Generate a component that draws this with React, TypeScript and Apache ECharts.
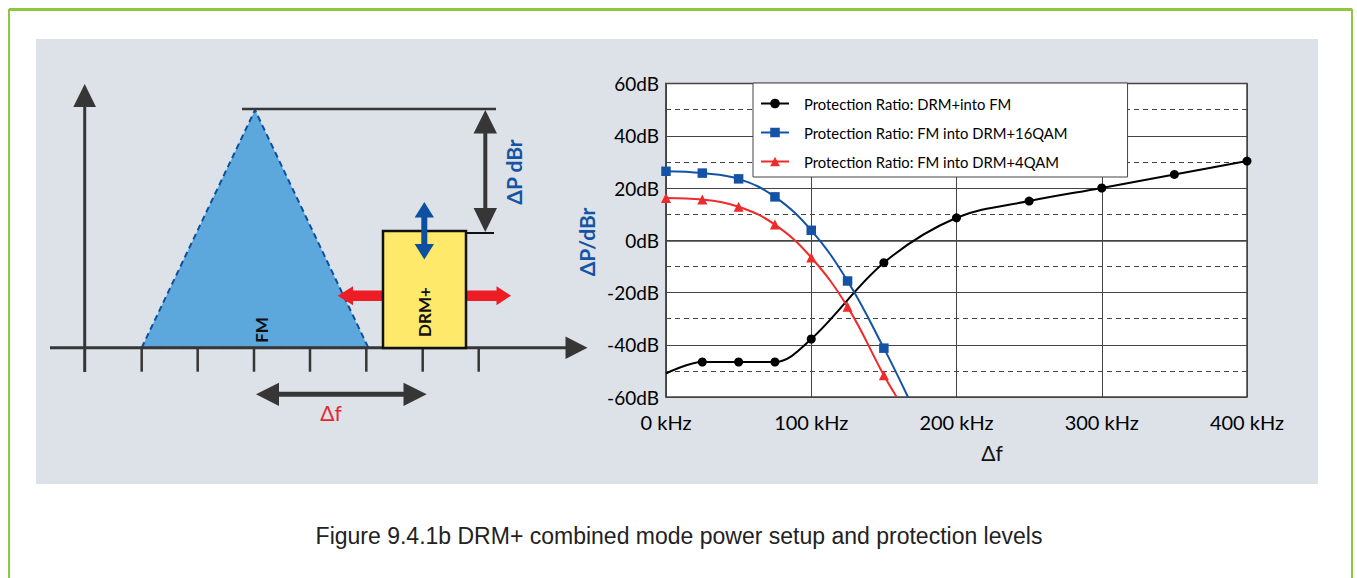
import React, { useEffect, useRef } from "react";
import * as echarts from "echarts";

// ---- data ----
const xTickValues = [0, 100, 200, 300, 400]; // kHz
const yTickValues = [-60, -40, -20, 0, 20, 40, 60]; // dB
const dashedGridValues = [50, 30, 10, -10, -30, -50];

const seriesNames = [
  "Protection Ratio: DRM+into FM",
  "Protection Ratio: FM into DRM+16QAM",
  "Protection Ratio: FM into DRM+4QAM",
];

const drmIntoFmFreq = [0, 25, 50, 75, 100, 150, 200, 250, 300, 350, 400];
const drmIntoFmValues = [-51, -46.6, -46.6, -46.6, -37.8, -8.6, 8.6, 15, 20, 25.2, 30.3];

const fmIntoDrmFreq = [0, 25, 50, 75, 100, 125, 150];
const fmInto16QamValues = [26.4, 25.7, 23.5, 16.6, 3.8, -15.6, -41.3];
const fmInto4QamValues = [16.2, 15.6, 12.8, 6.0, -6.6, -25.5, -51.7];
// where the curves leave the plot at the bottom
const fmInto16QamEnd = [166.6, -60];
const fmInto4QamEnd = [158.8, -60];

const captionText = "Figure 9.4.1b DRM+ combined mode power setup and protection levels";

const FONT = "Lato, 'Open Sans', sans-serif";
const DARK = "#363636";
const BLUE_TXT = "#1553a5";

function poly(points: number[][], fill: string, z = 5) {
  return { type: "polygon", z, shape: { points }, style: { fill } };
}
function ln(x1: number, y1: number, x2: number, y2: number, stroke: string, lineWidth: number, z = 5) {
  return { type: "line", z, shape: { x1, y1, x2, y2 }, style: { stroke, lineWidth } };
}

export default function App() {
  const ref = useRef<HTMLDivElement>(null);

  useEffect(() => {
    document.body.style.margin = "0";
    if (!ref.current) return;
    const chart = echarts.init(ref.current, undefined, { renderer: "svg" });

    const blackData: any[] = drmIntoFmFreq.map((f, i) =>
      i === 0 ? { value: [f, drmIntoFmValues[i]], symbol: "none" } : [f, drmIntoFmValues[i]]
    );
    const blueData: any[] = fmIntoDrmFreq.map((f, i) => [f, fmInto16QamValues[i]]);
    blueData.push({ value: fmInto16QamEnd, symbol: "none" });
    const redData: any[] = fmIntoDrmFreq.map((f, i) => [f, fmInto4QamValues[i]]);
    redData.push({ value: fmInto4QamEnd, symbol: "none" });

    const tickXs = [141.7, 197.7, 254, 310, 366.3, 422.7, 478.7];

    const graphics: any[] = [
      // frame and panel
      { type: "rect", z: -100, shape: { x: 9, y: 10, width: 1343, height: 620 }, style: { fill: "#fff", stroke: "#8dc63f", lineWidth: 2 } },
      ln(9, 9.5, 1352, 9.5, "#8dc63f", 3, -99),
      { type: "rect", z: -98, shape: { x: 36, y: 39, width: 1282, height: 445 }, style: { fill: "#dce2e8" } },
      // left diagram: FM triangle
      {
        type: "polygon", z: 2,
        shape: { points: [[141.7, 347.7], [255, 110], [368.3, 347.7]] },
        style: { fill: "#5ca8dc", stroke: "#0e4f9d", lineWidth: 2, lineDash: [6, 4] },
      },
      // axes
      ln(84.7, 100, 84.7, 372, DARK, 3),
      poly([[84.7, 84], [73.3, 107], [96, 107]], DARK),
      ln(50, 347.7, 570, 347.7, DARK, 3),
      poly([[587.5, 347.7], [565.5, 336.5], [565.5, 359]], DARK),
      ...tickXs.map((x) => ln(x, 347.7, x, 371.7, DARK, 2.5)),
      // level lines
      ln(242, 109, 496, 109, DARK, 2.5),
      ln(466, 233, 494, 233, "#111", 2),
      // delta P double arrow
      ln(485.3, 125, 485.3, 216, DARK, 4),
      poly([[485.3, 110], [473.6, 133.5], [497, 133.5]], DARK),
      poly([[485.3, 232], [473.6, 208], [497, 208]], DARK),
      // DRM+ block
      { type: "rect", z: 6, shape: { x: 383, y: 231, width: 83, height: 117 }, style: { fill: "#ffe96b", stroke: "#111", lineWidth: 2.5 } },
      ln(424.3, 212, 424.3, 250, "#0d4fa0", 6, 7),
      poly([[424.3, 202], [414.6, 217.5], [434, 217.5]], "#0d4fa0", 7),
      poly([[424.3, 259.5], [414.6, 244], [434, 244]], "#0d4fa0", 7),
      // red arrows
      { type: "rect", z: 5, shape: { x: 350, y: 290.5, width: 33, height: 10.5 }, style: { fill: "#ee1c24" } },
      poly([[337.7, 295.7], [353, 286.2], [353, 305.2]], "#ee1c24"),
      { type: "rect", z: 5, shape: { x: 466, y: 290.5, width: 32, height: 10.5 }, style: { fill: "#ee1c24" } },
      poly([[511, 295.7], [496.5, 286.2], [496.5, 305.2]], "#ee1c24"),
      // delta f double arrow
      ln(272, 394.3, 412, 394.3, DARK, 5),
      poly([[256, 394.3], [279, 382.7], [279, 405.9]], DARK),
      poly([[426.7, 394.3], [403.5, 382.7], [403.5, 405.9]], DARK),
      // texts
      {
        type: "text", z: 8, x: 261.7, y: 330, rotation: Math.PI / 2,
        style: { text: "FM", fontFamily: FONT, fontSize: 17, fontWeight: "bold", fill: "#111", align: "center", verticalAlign: "middle" },
      },
      {
        type: "text", z: 8, x: 424, y: 312, rotation: Math.PI / 2,
        style: { text: "DRM+", fontFamily: FONT, fontSize: 17, fontWeight: "bold", fill: "#111", align: "center", verticalAlign: "middle" },
      },
      {
        type: "text", z: 8, x: 513, y: 172, rotation: Math.PI / 2,
        style: { text: "ΔP dBr", fontFamily: FONT, fontSize: 21, fontWeight: "bold", fill: BLUE_TXT, align: "center", verticalAlign: "middle" },
      },
      {
        type: "text", z: 8, x: 331, y: 412.7,
        style: { text: "Δf", fontFamily: FONT, fontSize: 21, fill: "#e8262d", align: "center", verticalAlign: "middle" },
      },
      // right chart extra texts
      {
        type: "text", z: 8, x: 586.7, y: 242, rotation: Math.PI / 2,
        style: { text: "ΔP/dBr", fontFamily: FONT, fontSize: 21, fontWeight: "bold", fill: BLUE_TXT, align: "center", verticalAlign: "middle" },
      },
      {
        type: "text", z: 8, x: 992, y: 452,
        style: { text: "Δf", fontFamily: FONT, fontSize: 21, fill: "#111", align: "center", verticalAlign: "middle" },
      },
      // caption
      {
        type: "text", z: 8, x: 679, y: 536,
        style: {
          text: captionText,
          fontFamily: "'Liberation Sans Narrow', 'Arial Narrow', 'Liberation Sans', sans-serif",
          fontSize: 23, fill: "#222", align: "center", verticalAlign: "middle",
        },
      },
    ];

    const option: any = {
      animation: false,
      backgroundColor: "transparent",
      grid: {
        show: true, left: 666, right: 110, top: 83.5, bottom: 181,
        backgroundColor: "#fff", borderColor: "#444", borderWidth: 1.5,
      },
      legend: {
        data: seriesNames,
        orient: "vertical",
        left: 753, top: 83, z: 20,
        padding: [13, 60, 8, 7],
        itemGap: 14, itemWidth: 28, itemHeight: 12,
        backgroundColor: "#fff", borderColor: "#444", borderWidth: 1,
        textStyle: { fontFamily: FONT, fontSize: 14.8, color: "#000", padding: [0, 0, 0, 10] },
      },
      xAxis: {
        type: "value", min: 0, max: 400, interval: 100,
        axisLine: { show: true, lineStyle: { color: "#444", width: 1.5 } },
        axisTick: { show: false },
        splitLine: { show: true, lineStyle: { color: "#444", width: 1 } },
        axisLabel: {
          margin: 15, fontFamily: FONT, fontSize: 20, color: "#000",
          formatter: (v: number) => (xTickValues.includes(v) ? `${v} kHz` : ""),
        },
      },
      yAxis: {
        type: "value", min: -60, max: 60, interval: 20,
        axisLine: { show: true, lineStyle: { color: "#444", width: 1.5 } },
        axisTick: { show: false },
        splitLine: { show: true, lineStyle: { color: "#444", width: 1 } },
        axisLabel: {
          margin: 7, fontFamily: FONT, fontSize: 19, color: "#000",
          formatter: (v: number) => (yTickValues.includes(v) ? `${v}dB` : ""),
        },
      },
      graphic: { elements: graphics },
      series: [
        {
          name: "dashed-grid", type: "line", data: [], z: 1, silent: true,
          markLine: {
            silent: true, z: 1, symbol: ["none", "none"], label: { show: false },
            lineStyle: { type: [5, 4], color: "#444", width: 1 },
            data: dashedGridValues.map((v) => ({ yAxis: v })),
          },
        },
        {
          name: seriesNames[0], type: "line", data: blackData, smooth: 0.35, clip: false, z: 3,
          symbol: "circle", symbolSize: 9,
          lineStyle: { color: "#000", width: 2 }, itemStyle: { color: "#000" },
        },
        {
          name: seriesNames[1], type: "line", data: blueData, smooth: 0.4, clip: false, z: 3,
          symbol: "rect", symbolSize: 9.5,
          lineStyle: { color: "#1452a6", width: 2 }, itemStyle: { color: "#1452a6" },
        },
        {
          name: seriesNames[2], type: "line", data: redData, smooth: 0.4, clip: false, z: 3,
          symbol: "triangle", symbolSize: 10,
          lineStyle: { color: "#ef2a2a", width: 2 }, itemStyle: { color: "#ef2a2a" },
        },
      ],
    };

    chart.setOption(option);
    return () => chart.dispose();
  }, []);

  return <div ref={ref} style={{ width: 1357, height: 578 }} />;
}
